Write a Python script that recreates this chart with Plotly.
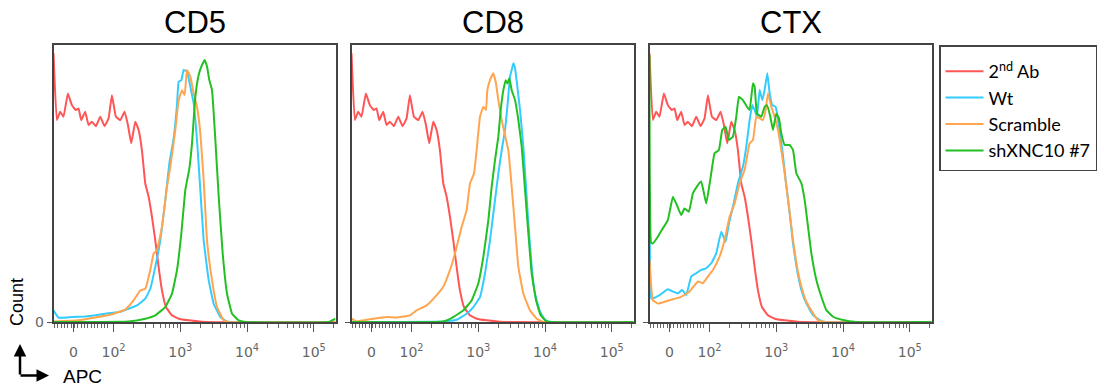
import math
import plotly.graph_objects as go

# ---------------- data (x in display decades: 2 = 10^2, 3 = 10^3 ...; y = % of max count) -------------
PANELS = ["CD5", "CD8", "CTX"]
SERIES = ["2<sup>nd</sup> Ab", "Wt", "Scramble", "shXNC10 #7"]

TICK_VALS = [1.4, 2, 3, 4, 5]
TICK_TEXT = ["0", "10<sup>2</sup>", "10<sup>3</sup>", "10<sup>4</sup>", "10<sup>5</sup>"]

# secondary antibody control (same control in every panel)
AB2_X = [1.100, 1.150, 1.200, 1.250, 1.315, 1.375, 1.435, 1.475, 1.515, 1.575, 1.625, 1.675, 1.735,
         1.800, 1.865, 1.925, 1.975, 2.035, 2.100, 2.165, 2.215, 2.265, 2.325, 2.375, 2.425, 2.475,
         2.525, 2.575, 2.625, 2.675, 2.725, 2.785, 2.875, 2.975, 3.125, 3.375, 5.325]
AB2_Y = [97.0, 72.9, 75.9, 74.1, 82.5, 78.3, 76.5, 77.1, 72.9, 75.9, 71.1, 72.3, 70.7,
         74.1, 70.7, 73.5, 81.9, 74.1, 72.9, 75.9, 71.1, 64.5, 72.3, 69.3, 62.0, 50.0,
         45.2, 38.0, 29.5, 19.9, 11.4, 5.4, 2.4, 1.2, 0.6, 0.0, 0.0]

# CD5
CD5_WT_X = [1.100, 1.175, 1.375, 1.575, 1.725, 1.875, 2.075, 2.225, 2.350, 2.475, 2.550, 2.625, 2.700,
            2.775, 2.835, 2.900, 2.950, 2.975, 3.015, 3.050, 3.100, 3.150, 3.200, 3.250, 3.300, 3.350,
            3.425, 3.500, 3.600, 3.700, 5.325]
CD5_WT_Y = [4.2, 1.6, 1.8, 2.0, 2.4, 3.0, 3.6, 4.8, 6.0, 8.4, 12.0, 19.9, 29.5,
            44.0, 57.2, 66.3, 78.3, 86.7, 87.3, 91.0, 90.4, 84.9, 78.9, 65.7, 47.6, 29.5,
            15.1, 6.6, 1.8, 0.2, 0.0]
CD5_SCR_X = [1.100, 1.475, 1.725, 1.975, 2.175, 2.300, 2.400, 2.475, 2.550, 2.600, 2.650, 2.725, 2.800,
             2.850, 2.925, 2.975, 3.025, 3.065, 3.100, 3.150, 3.200, 3.250, 3.300, 3.350, 3.400, 3.475,
             3.550, 3.650, 3.725, 5.325]
CD5_SCR_Y = [0.2, 0.6, 1.6, 2.8, 4.5, 7.8, 11.4, 12.0, 18.7, 24.7, 25.9, 34.3, 48.8,
             56.0, 69.3, 80.1, 83.7, 81.9, 91.0, 88.6, 82.5, 77.7, 68.1, 51.2, 29.5, 15.1,
             5.4, 0.6, 0.0, 0.0]
CD5_SH_X = [1.100, 2.225, 2.475, 2.625, 2.775, 2.875, 2.950, 3.015, 3.075, 3.135, 3.175, 3.225, 3.275,
            3.325, 3.365, 3.400, 3.435, 3.475, 3.525, 3.575, 3.635, 3.700, 3.775, 3.875, 3.975, 5.225,
            5.325]
CD5_SH_Y = [0.0, 0.2, 1.2, 2.4, 5.4, 10.2, 18.7, 31.9, 47.6, 55.4, 64.5, 81.3, 89.2,
            92.8, 94.6, 92.2, 87.3, 83.7, 65.7, 45.2, 24.7, 10.2, 3.0, 0.6, 0.0, 0.0,
            1.2]

# CD8
CD8_WT_X = [1.100, 2.475, 2.675, 2.825, 2.925, 3.025, 3.100, 3.175, 3.250, 3.300, 3.350, 3.400, 3.435,
            3.475, 3.500, 3.525, 3.550, 3.585, 3.625, 3.675, 3.715, 3.750, 3.800, 3.850, 3.925, 4.000,
            4.075, 5.325]
CD8_WT_Y = [0.0, 0.2, 0.8, 3.0, 5.4, 9.0, 17.5, 29.5, 44.0, 53.6, 62.0, 69.3, 77.7,
            88.6, 91.0, 93.4, 91.6, 84.9, 76.5, 63.3, 48.8, 35.5, 19.9, 10.2, 3.6, 0.8,
            0.0, 0.0]
CD8_SCR_X = [1.100, 1.175, 1.425, 1.625, 1.775, 1.975, 2.075, 2.225, 2.350, 2.475, 2.575, 2.650, 2.750,
             2.825, 2.875, 2.935, 2.975, 3.025, 3.075, 3.115, 3.135, 3.175, 3.225, 3.265, 3.300, 3.350,
             3.400, 3.450, 3.500, 3.550, 3.600, 3.675, 3.775, 3.875, 3.975, 5.325]
CD8_SCR_Y = [1.2, 0.2, 1.2, 1.8, 1.6, 2.4, 4.2, 6.0, 9.0, 12.7, 18.7, 24.7, 34.3,
             40.4, 50.0, 53.6, 62.0, 74.1, 77.7, 76.5, 83.7, 87.3, 89.8, 86.1, 80.1, 72.9,
             67.5, 62.0, 48.8, 34.3, 19.9, 10.2, 4.2, 1.2, 0.0, 0.0]
CD8_SH_X = [1.100, 2.475, 2.625, 2.775, 2.900, 3.000, 3.075, 3.150, 3.200, 3.250, 3.300, 3.335, 3.375,
            3.410, 3.435, 3.465, 3.500, 3.550, 3.600, 3.650, 3.700, 3.750, 3.800, 3.865, 3.935, 4.025,
            5.325]
CD8_SH_Y = [0.0, 0.2, 1.8, 4.2, 7.8, 13.9, 23.5, 36.7, 48.8, 58.4, 66.9, 76.5, 83.7,
            87.3, 86.1, 88.0, 83.7, 80.1, 72.9, 63.3, 47.6, 31.9, 17.5, 7.8, 2.4, 0.2,
            0.0]

# CTX
CTX_WT_X = [1.100, 1.125, 1.150, 1.250, 1.375, 1.450, 1.525, 1.590, 1.650, 1.725, 1.800, 1.875, 1.950,
            2.025, 2.100, 2.175, 2.240, 2.290, 2.350, 2.425, 2.500, 2.550, 2.600, 2.640, 2.675, 2.710,
            2.750, 2.790, 2.825, 2.865, 2.900, 2.940, 2.990, 3.040, 3.090, 3.140, 3.200, 3.250, 3.310,
            3.375, 3.450, 3.550, 3.650, 3.750, 5.325]
CTX_WT_Y = [50.1, 8.5, 8.5, 9.7, 11.8, 11.0, 10.3, 11.6, 9.7, 16.4, 17.6, 18.8, 19.4,
            21.2, 24.8, 32.6, 29.0, 35.6, 41.6, 50.1, 56.1, 63.3, 72.9, 78.3, 76.5, 74.1,
            83.8, 80.1, 83.8, 89.8, 82.6, 78.3, 77.7, 70.5, 62.1, 51.3, 39.2, 28.4, 18.8,
            11.6, 6.7, 2.5, 0.7, 0.0, 0.0]
CTX_SCR_X = [1.100, 1.150, 1.225, 1.325, 1.450, 1.575, 1.700, 1.825, 1.900, 1.975, 2.050, 2.150, 2.225,
             2.300, 2.375, 2.450, 2.525, 2.600, 2.650, 2.700, 2.750, 2.800, 2.840, 2.875, 2.925, 2.975,
             3.025, 3.075, 3.125, 3.190, 3.250, 3.310, 3.375, 3.450, 3.550, 3.625, 3.725, 5.325]
CTX_SCR_Y = [22.4, 7.9, 6.7, 7.3, 8.2, 9.1, 11.0, 14.6, 14.0, 16.4, 18.8, 23.6, 29.6,
             38.0, 42.8, 50.1, 54.9, 64.5, 65.7, 74.1, 73.5, 72.9, 76.5, 82.6, 77.7, 74.1,
             69.3, 62.1, 53.7, 41.6, 29.6, 20.0, 12.8, 7.3, 3.1, 0.7, 0.0, 0.0]
CTX_SH_X = [1.100, 1.125, 1.150, 1.225, 1.300, 1.375, 1.450, 1.500, 1.575, 1.625, 1.690, 1.750, 1.810,
            1.875, 1.950, 2.010, 2.075, 2.140, 2.190, 2.240, 2.290, 2.350, 2.400, 2.440, 2.500, 2.560,
            2.600, 2.650, 2.675, 2.710, 2.775, 2.825, 2.860, 2.910, 2.950, 3.000, 3.040, 3.075, 3.125,
            3.200, 3.250, 3.300, 3.375, 3.425, 3.475, 3.525, 3.600, 3.675, 3.750, 3.850, 4.000, 4.200,
            5.325]
CTX_SH_Y = [96.4, 28.6, 28.4, 30.8, 33.8, 36.8, 45.2, 42.8, 38.6, 41.0, 39.8, 46.4, 48.9,
            50.7, 42.8, 51.3, 60.9, 62.1, 69.3, 70.5, 65.7, 66.9, 74.1, 81.3, 80.1, 77.7,
            76.5, 86.2, 85.0, 75.3, 74.1, 77.7, 78.3, 74.1, 69.3, 75.3, 73.5, 68.1, 63.9,
            63.9, 62.1, 53.7, 50.1, 44.0, 34.4, 24.8, 15.2, 9.1, 4.3, 1.9, 0.7, 0.0,
            0.0]

DATA = {
    "CD5": [(AB2_X, AB2_Y), (CD5_WT_X, CD5_WT_Y), (CD5_SCR_X, CD5_SCR_Y), (CD5_SH_X, CD5_SH_Y)],
    "CD8": [(AB2_X, AB2_Y), (CD8_WT_X, CD8_WT_Y), (CD8_SCR_X, CD8_SCR_Y), (CD8_SH_X, CD8_SH_Y)],
    "CTX": [(AB2_X, AB2_Y), (CTX_WT_X, CTX_WT_Y), (CTX_SCR_X, CTX_SCR_Y), (CTX_SH_X, CTX_SH_Y)],
}

# minor tick positions (linear region + log decades)
MINOR_TICKS = [1.115 + 0.05 * i for i in range(17)]
for d in (2, 3, 4):
    for k in range(2, 10):
        MINOR_TICKS.append(d + math.log10(k))
MINOR_TICKS.append(5 + math.log10(2))

# ---------------- styling ----------------
COLORS = ["#ff5555", "#33ccff", "#ffa54f", "#22c022"]
W, H = 1104, 387
LEFTS = [53.5, 351.5, 649.5]
PW = 282
TOP, BOT = 45, 322

fig = go.Figure()
for p, name in enumerate(PANELS):
    xa = "x" if p == 0 else f"x{p+1}"
    ya = "y" if p == 0 else f"y{p+1}"
    for s, (xs, ys) in enumerate(DATA[name]):
        fig.add_trace(go.Scatter(
            x=xs, y=ys, mode="lines", name=SERIES[s], legendgroup=SERIES[s],
            showlegend=(p == 0), xaxis=xa, yaxis=ya,
            line=dict(color=COLORS[s], width=2, shape="spline", smoothing=0.3),
        ))

axis_font = dict(family="DejaVu Sans, Verdana, sans-serif", size=14, color="#666666")
for p, name in enumerate(PANELS):
    sx = "xaxis" if p == 0 else f"xaxis{p+1}"
    sy = "yaxis" if p == 0 else f"yaxis{p+1}"
    ya = "y" if p == 0 else f"y{p+1}"
    xa = "x" if p == 0 else f"x{p+1}"
    fig.layout[sx] = dict(
        domain=[LEFTS[p] / W, (LEFTS[p] + PW) / W], anchor=ya,
        range=[1.1, 5.325], showline=True, mirror=True, linecolor="#444444", linewidth=1.5,
        showgrid=False, zeroline=False, ticks="outside", ticklen=8, tickwidth=1.2, tickcolor="#555555",
        tickvals=TICK_VALS, ticktext=TICK_TEXT, tickfont=axis_font, ticklabelstandoff=8,
        minor=dict(tickvals=MINOR_TICKS, ticks="outside", ticklen=4, tickwidth=1, tickcolor="#666666"),
        fixedrange=True, automargin=False,
    )
    fig.layout[sy] = dict(
        domain=[1 - BOT / H, 1 - TOP / H], anchor=xa,
        range=[0, 100], showline=True, mirror=True, linecolor="#444444", linewidth=1.5,
        showgrid=False, zeroline=False, ticks="outside", ticklen=5, tickcolor="#555555",
        tickvals=[0], ticktext=["0"], showticklabels=(p == 0), tickfont=axis_font,
        fixedrange=True, automargin=False,
    )
    fig.add_annotation(
        text=name, xref="paper", yref="paper",
        x=(LEFTS[p] + PW / 2) / W, y=1 - 22.5 / H, xanchor="center", yanchor="middle",
        showarrow=False, font=dict(family="Liberation Sans, Arial, sans-serif", size=31, color="black"),
    )

# axis labels and corner arrows
fig.add_annotation(text="Count", xref="paper", yref="paper", x=17 / W, y=1 - 302 / H,
                   textangle=-90, showarrow=False, xanchor="center", yanchor="middle",
                   font=dict(family="Liberation Sans, Arial, sans-serif", size=18, color="black"))
fig.add_annotation(text="APC", xref="paper", yref="paper", x=61 / W, y=1 - 376 / H,
                   showarrow=False, xanchor="left", yanchor="middle",
                   font=dict(family="Liberation Sans, Arial, sans-serif", size=19, color="black"))
fig.add_annotation(text="", xref="paper", yref="paper", x=20 / W, y=1 - 344 / H,
                   ax=0, ay=32, axref="pixel", ayref="pixel", showarrow=True,
                   arrowhead=2, arrowsize=1, arrowwidth=2.5, arrowcolor="black", standoff=0)
fig.add_annotation(text="", xref="paper", yref="paper", x=49 / W, y=1 - 375.5 / H,
                   ax=-30, ay=0, axref="pixel", ayref="pixel", showarrow=True,
                   arrowhead=2, arrowsize=1, arrowwidth=2.5, arrowcolor="black", standoff=0)

fig.update_layout(
    width=W, height=H, margin=dict(l=0, r=0, t=0, b=0, autoexpand=False),
    paper_bgcolor="white", plot_bgcolor="white",
    legend=dict(x=939 / W, y=1 - 45 / H, xanchor="left", yanchor="top",
                bordercolor="#444444", borderwidth=1.5, bgcolor="white",
                font=dict(family="Lato, Carlito, sans-serif", size=18, color="black"),
                title=dict(text=" ", font=dict(size=5)),
                itemwidth=38, tracegroupgap=0),
)

fig.write_html("out.html", config={"displayModeBar": False},
               post_script="document.body.style.margin='0';document.body.style.overflow='hidden';")
